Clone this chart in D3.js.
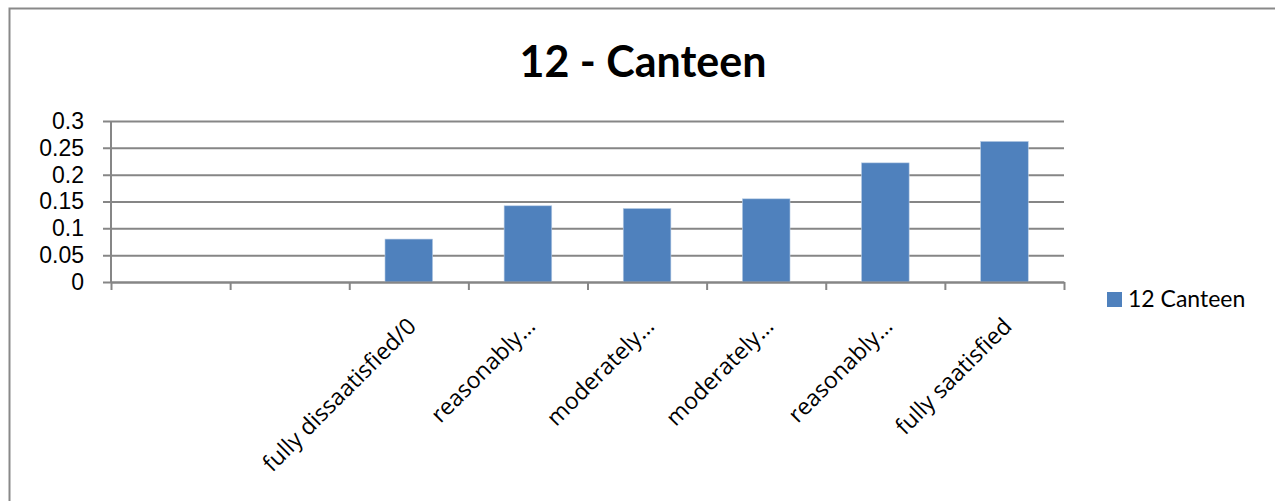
<!DOCTYPE html>
<html>
<head>
<meta charset="utf-8">
<script src="https://cdn.jsdelivr.net/npm/d3@7"></script>
<style>
    html, body { margin: 0; padding: 0; background: #ffffff; }
    svg { display: block; font-family: Lato, "Open Sans", sans-serif; }
</style>
</head>
<body>
<div id="chart"></div>
<script>

/* Data -------------------------------------------------------------------- */

const categories = [
    "", "",
    "fully dissaatisfied/0",
    "reasonably…",
    "moderately…",
    "moderately…",
    "reasonably…",
    "fully saatisfied"
];
const values = [null, null, 0.08, 0.142, 0.137, 0.155, 0.222, 0.262];
const yTicks = [0, 0.05, 0.1, 0.15, 0.2, 0.25, 0.3];
const seriesName = "12 Canteen";
const titleText = "12 - Canteen";

/* Draw graphic ------------------------------------------------------------ */

const colors = {
    bar: "#4f81bd",
    grid: "#868686",
    border: "#898989",
    text: "#000000"
};

const width = 1275, height = 501;
const margin = { top: 121, left: 111, right: 211, bottom: 219 };
const plotW = width - margin.left - margin.right;
const plotH = height - margin.top - margin.bottom;

const data = categories.map((c, i) => ({ key: i, label: c, value: values[i] }));

// Category scale (ticks sit on category boundaries)
const xEdge = d3.scaleLinear()
    .domain([0, categories.length])
    .range([0, plotW]);

const xBand = d3.scaleBand()
    .domain(data.map(d => d.key))
    .range([0, plotW])
    .paddingInner(0.6)
    .paddingOuter(0.3);

const y = d3.scaleLinear()
    .domain([0, 0.3])
    .range([plotH, 0]);

const svg = d3.select("#chart")
    .append("svg")
    .attr("width", width)
    .attr("height", height);

// Chart border
svg.append("rect")
    .attr("x", 9.5)
    .attr("y", 8.5)
    .attr("width", width)
    .attr("height", height)
    .attr("fill", "#ffffff")
    .attr("stroke", colors.border)
    .attr("stroke-width", 2);

// Title
svg.append("text")
    .attr("x", 643)
    .attr("y", 77)
    .attr("text-anchor", "middle")
    .style("font-size", "43px")
    .style("font-weight", "bold")
    .style("fill", colors.text)
    .text(titleText);

const canvas = svg.append("g")
    .attr("transform", `translate(${margin.left},${margin.top})`);

// Gridlines + y labels
const yAxis = canvas.append("g")
    .attr("class", "yaxis")
    .call(d3.axisLeft(y)
        .tickValues(yTicks)
        .tickSizeOuter(0)
        .tickFormat(d3.format("")));

yAxis.select(".domain").remove();
yAxis.selectAll(".tick line")
    .attr("x1", -8)
    .attr("x2", plotW)
    .attr("stroke", colors.grid)
    .attr("stroke-width", 2);
yAxis.selectAll(".tick text")
    .attr("x", -27)
    .style("font-size", "23px")
    .style("fill", colors.text);

// Vertical axis line
canvas.append("line")
    .attr("x1", 0).attr("x2", 0)
    .attr("y1", 0).attr("y2", plotH)
    .attr("stroke", colors.grid)
    .attr("stroke-width", 2);

// Bars
canvas.selectAll(".bar")
    .data(data.filter(d => d.value !== null))
    .enter()
    .append("rect")
    .attr("class", "bar")
    .attr("x", d => xBand(d.key))
    .attr("y", d => y(d.value))
    .attr("width", xBand.bandwidth())
    .attr("height", d => y(0) - y(d.value))
    .attr("fill", colors.bar)
    .attr("stroke", "#b9cde5")
    .attr("stroke-width", 0.6);

// X axis with boundary ticks
const xAxis = canvas.append("g")
    .attr("class", "xaxis")
    .attr("transform", `translate(0,${plotH})`)
    .call(d3.axisBottom(xEdge)
        .tickValues(d3.range(categories.length + 1))
        .tickSize(8)
        .tickSizeOuter(0)
        .tickFormat(""));

xAxis.select(".domain")
    .attr("stroke", colors.grid)
    .attr("stroke-width", 2);
xAxis.selectAll(".tick line")
    .attr("stroke", colors.grid)
    .attr("stroke-width", 2);

// Rotated category labels
canvas.selectAll(".xlabel")
    .data(data)
    .enter()
    .append("text")
    .attr("class", "xlabel")
    .attr("transform", d => {
        const cx = xBand(d.key) + xBand.bandwidth() / 2;
        return `translate(${cx + 3},${plotH + 40}) rotate(-45)`;
    })
    .attr("text-anchor", "end")
    .attr("dy", "0.35em")
    .style("font-family", "'Open Sans', sans-serif")
    .style("font-size", "23px")
    .style("fill", colors.text)
    .text(d => d.label);

// Legend
const legend = svg.append("g")
    .attr("transform", "translate(1107,292)");

legend.append("rect")
    .attr("width", 15)
    .attr("height", 15)
    .attr("fill", colors.bar);

legend.append("text")
    .attr("x", 21)
    .attr("y", 15)
    .style("font-size", "23px")
    .style("fill", colors.text)
    .text(seriesName);

</script>
</body>
</html>
